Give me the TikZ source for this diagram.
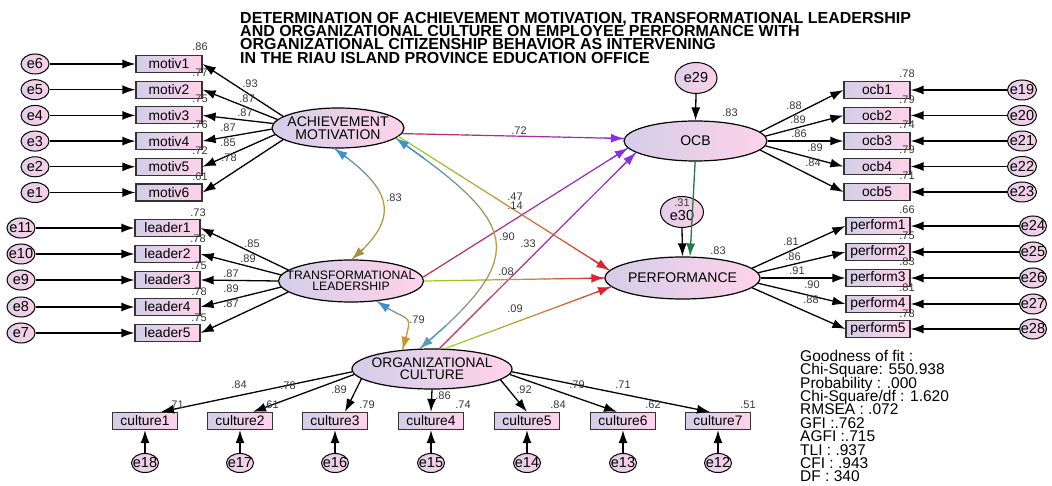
\documentclass[tikz,border=0pt]{standalone}
\usepackage{fontspec}
\setmainfont{Liberation Sans}
\usetikzlibrary{shapes.geometric,arrows.meta,calc}
\definecolor{latL}{HTML}{D3CEE8}
\definecolor{latR}{HTML}{FFD2EA}
\definecolor{errL}{HTML}{E2CEE9}
\definecolor{errR}{HTML}{FBD0E8}
\definecolor{lblc}{HTML}{383838}
\definecolor{ocbA}{HTML}{C4304C}
\definecolor{ocbM}{HTML}{A82E98}
\definecolor{ocbB}{HTML}{8B2BE2}
\definecolor{pfA}{HTML}{92D824}
\definecolor{pfM}{HTML}{C98C3A}
\definecolor{pfB}{HTML}{E0202E}
\definecolor{covB}{HTML}{3F8FD2}
\definecolor{covG}{HTML}{C8952A}
\definecolor{covO}{HTML}{A29048}
\definecolor{covS}{HTML}{5A98B8}
\definecolor{grn}{HTML}{237A45}
\newcommand\tightls{\lineskiplimit -100pt\relax}
\tikzset{
  >={Latex[length=13pt,width=9pt]},
  lat/.style={ellipse, draw=black, line width=1.2pt, left color=latL, right color=latR, inner sep=0pt},
  lattext/.style={align=center, inner sep=0pt, font=\fontsize{14}{12.5}\selectfont\tightls},
  obs/.style={rectangle, draw=black!80, line width=1.2pt, left color=latL, right color=latR,
    minimum width=66pt, minimum height=17pt, inner sep=0pt, font=\fontsize{13.8}{14}\selectfont},
  err/.style={ellipse, draw=black, line width=1pt, left color=errL, right color=errR,
    minimum width=28pt, minimum height=20pt, inner sep=0pt},
  errtext/.style={inner sep=0pt, font=\fontsize{14.5}{15}\selectfont},
  num/.style={inner sep=0pt, text=lblc, font=\fontsize{11}{11}\selectfont},
  ar/.style={line width=1.3pt, ->},
  gline/.style={line width=1.2pt, line cap=round},
  fitblock/.style={anchor=north west, inner sep=0pt, align=left, font=\fontsize{15.5}{13.4}\selectfont\tightls},
  ttl/.style={anchor=north west, inner sep=0pt, align=left, font=\fontsize{16}{13.3}\selectfont\bfseries\tightls},
}
% gradient connector: #1 to-options, #2 start, #3 end, #4 #5 #6 colours (start, middle, end)
\newcommand\gradsegs[6]{%
  \foreach \k in {0,...,24}{\path (#2) to[#1] coordinate[pos=\k/24] (gp\k) (#3);}%
  \foreach \k in {0,...,23}{%
    \pgfmathtruncatemacro\kn{\k+1}%
    \ifnum\k<12
      \pgfmathtruncatemacro\pc{round(\k*100/12)}%
      \draw[gline, draw={#5!\pc!#4}] (gp\k) -- (gp\kn);%
    \else
      \pgfmathtruncatemacro\pc{round((\k-12)*100/12)}%
      \draw[gline, draw={#6!\pc!#5}] (gp\k) -- (gp\kn);%
    \fi}%
  \draw[gline, draw=#6, fill=#6, ->] (gp22) -- (gp24);%
}
\newcommand\gradstart[1]{\draw[gline, draw=#1, fill=#1, ->] (gp2) -- (gp0);}
\begin{document}
\begin{tikzpicture}[x=1pt,y=1pt]
\fill[white] (0,0) rectangle (1052,-486);
\useasboundingbox (0,0) rectangle (1052,-486);

% title
\node[ttl] (title) at (240,-11.8) {DETERMINATION OF ACHIEVEMENT MOTIVATION, TRANSFORMATIONAL LEADERSHIP\\
AND ORGANIZATIONAL CULTURE ON EMPLOYEE PERFORMANCE WITH\\
ORGANIZATIONAL CITIZENSHIP BEHAVIOR AS INTERVENING\\
IN THE RIAU ISLAND PROVINCE EDUCATION OFFICE};

% latent variables
\node[lat, minimum width=132pt, minimum height=40pt,
  label={[lattext]center:{ACHIEVEMENT\\MOTIVATION}}] (ach) at (338,-128) {};
\node[lat, minimum width=145pt, minimum height=42pt,
  label={[lattext, font=\fontsize{12.2}{10.7}\selectfont\tightls]center:{TRANSFORMATIONAL\\LEADERSHIP}}] (tl) at (351,-281) {};
\node[lat, minimum width=160pt, minimum height=40pt,
  label={[lattext, font=\fontsize{13.8}{11.7}\selectfont\tightls]center:{ORGANIZATIONAL\\CULTURE}}] (oc) at (432,-369) {};
\node[lat, minimum width=143pt, minimum height=40pt,
  label={[lattext]center:{OCB}}] (ocb) at (695.5,-141) {};
\node[lat, minimum width=155pt, minimum height=42pt,
  label={[lattext]center:{PERFORMANCE}}] (perf) at (682.5,-278) {};
\node[err, minimum width=42pt, minimum height=31pt, label={[errtext]center:e29}] (e29) at (696,-78) {};
\node[err, minimum width=43pt, minimum height=31pt, label={[errtext, yshift=-4pt]center:e30}] (e30) at (682,-212) {};

% motivation indicators
\foreach \i/\y/\e in {1/64/6,2/89.7/5,3/115.4/4,4/141.1/3,5/166.8/2,6/192.5/1}{
  \node[obs] (m\i) at (169,-\y) {motiv\i};
  \node[err, label={[errtext]center:e\e}] (e\e) at (35,-\y) {};
}
% leadership indicators
\foreach \i/\y/\e in {1/228/11,2/254/10,3/280/9,4/307/8,5/333/7}{
  \node[obs, minimum width=65pt] (l\i) at (167.5,-\y) {leader\i};
  \node[err, label={[errtext]center:e\e}] (e\e) at (21,-\y) {};
}
% culture indicators
\foreach \i/\x/\e in {1/145/18,2/240/17,3/335/16,4/431/15,5/527/14,6/623/13,7/718/12}{
  \node[obs, minimum width=65pt] (c\i) at (\x,-421) {culture\i};
  \node[err, minimum width=27pt, minimum height=19pt, label={[errtext]center:e\e}] (e\e) at (\x,-463) {};
}
% ocb indicators
\foreach \i/\y/\e in {1/90/19,2/115.5/20,3/141/21,4/166.5/22,5/192/23}{
  \node[obs, minimum height=16.5pt] (o\i) at (877,-\y) {ocb\i};
  \node[err, minimum width=29pt, label={[errtext]center:e\e}] (e\e) at (1022,-\y) {};
}
% performance indicators
\foreach \i/\y/\e in {1/226/24,2/252/25,3/278/26,4/304/27,5/329/28}{
  \node[obs, minimum width=64pt] (p\i) at (878,-\y) {perform\i};
  \node[err, minimum width=27pt, label={[errtext]center:e\e}] (e\e) at (1033,-\y) {};
}

% structural paths (gradient coloured)
\gradsegs{}{ach.-5}{ocb.178}{ocbA}{ocbM}{ocbB}
\gradsegs{}{tl.3}{ocb.186}{ocbA}{ocbM}{ocbB}
\gradsegs{}{oc.70}{ocb.191}{ocbA}{ocbM}{ocbB}
\gradsegs{}{ach.-8}{perf.174}{pfA}{pfM}{pfB}
\gradsegs{}{tl.0}{perf.180}{pfA}{pfM}{pfB}
\gradsegs{}{oc.58}{perf.187}{pfA}{pfM}{pfB}
% covariances
\gradsegs{out=-35,in=40,looseness=1.55}{ach.-100}{tl.88}{covB}{covG}{covO}\gradstart{covB}
\gradsegs{out=-35,in=75,looseness=2}{tl.-38}{oc.147}{covB}{covG}{covG}\gradstart{covB}
\gradsegs{out=-35,in=40,looseness=1.79}{ach.-10}{oc.121}{covB}{covG}{covS}\gradstart{covB}

% OCB -> performance
\draw[line width=1.3pt, draw=grn, fill=grn, ->] (ocb.-91) -- ($(perf.north)+(7.5,0)$);
\draw[ar] (e29.south) -- (ocb.north);
\draw[ar] (e30.south) -- (perf.north);

% measurement arrows
\foreach \i/\a in {1/168,2/172,3/176,4/181,5/186,6/192}{\draw[ar] (ach.\a) -- (m\i.east);}
\foreach \i/\e in {1/6,2/5,3/4,4/3,5/2,6/1}{\draw[ar] (e\e) -- (m\i);}
\foreach \i/\a in {1/170,2/175,3/180,4/185,5/190}{\draw[ar] (tl.\a) -- (l\i.east);}
\foreach \i/\e in {1/11,2/10,3/9,4/8,5/7}{\draw[ar] (e\e) -- (l\i);}
\foreach \i/\a/\s in {1/182/16,2/184/13,3/188/10,4/270/0,5/-9/0,6/-4/-6,7/-2/-8}{\draw[ar] (oc.\a) -- ($(c\i.north)+(\s,0)$);}
\foreach \i/\e in {1/18,2/17,3/16,4/15,5/14,6/13,7/12}{\draw[ar] (e\e) -- (c\i);}
\foreach \i/\a in {1/8,2/4,3/0,4/-4,5/-8}{\draw[ar] (ocb.\a) -- (o\i.west);}
\foreach \i/\e in {1/19,2/20,3/21,4/22,5/23}{\draw[ar] (e\e) -- (o\i);}
\foreach \i/\a in {1/8,2/4,3/0,4/-4,5/-8}{\draw[ar] (perf.\a) -- (p\i.west);}
\foreach \i/\e in {1/24,2/25,3/26,4/27,5/28}{\draw[ar] (e\e) -- (p\i);}

% numeric labels
\foreach \t/\x/\y [count=\n] in {.86/200/47,.77/200/73,.75/200/99,.76/200/125,.72/200/151,.61/200/177,
  .93/250/84,.87/247/99,.87/245/113,.87/228/128,.85/228/143,.78/229/158}{\node[num] (na\n) at (\x,-\y) {\t};}
\foreach \t/\x/\y [count=\n] in {.73/198/213,.78/198/239,.75/199/266,.78/199/292,.75/199/318,
  .85/252/244,.89/248/259,.87/231/274,.89/231/289,.87/231/304}{\node[num] (nb\n) at (\x,-\y) {\t};}
\foreach \t/\x/\y [count=\n] in {.84/239/385,.78/288/386,.89/339/390,.86/443/396,.92/524/390,.79/577/385,.71/623/385,
  .71/176/405,.61/271/405,.79/367/405,.74/463/405,.84/558/405,.62/653/405,.51/748/405}{\node[num] (nc\n) at (\x,-\y) {\t};}
\foreach \t/\x/\y [count=\n] in {.88/794/106,.89/798/120,.86/799/134,.89/815/148,.84/813/163,
  .78/907/74,.79/907/100,.74/907/125,.79/907/150,.71/907/176,.83/730/113}{\node[num] (nd\n) at (\x,-\y) {\t};}
\foreach \t/\x/\y [count=\n] in {.81/791/242,.86/793/257,.91/797/271,.90/812/285,.88/811/300,
  .66/907/210,.75/907/236,.83/907/262,.81/907/288,.78/907/314,.83/718/251,.31/682/203}{\node[num] (ne\n) at (\x,-\y) {\t};}
\foreach \t/\x/\y [count=\n] in {.72/519/131,.47/515/197,.14/515/206,.90/507/237,.33/528/244,.08/506/272,.09/515/309,
  .83/394/198,.79/417/320}{\node[num] (nf\n) at (\x,-\y) {\t};}

% goodness of fit
\node[fitblock] (gof) at (800,-349.8) {Goodness of fit :\\Chi-Square: 550.938\\Probability : .000\\Chi-Square/df : 1.620\\
  RMSEA : .072\\GFI :.762\\AGFI :.715\\TLI : .937\\CFI : .943\\DF : 340};
\end{tikzpicture}
\end{document}
